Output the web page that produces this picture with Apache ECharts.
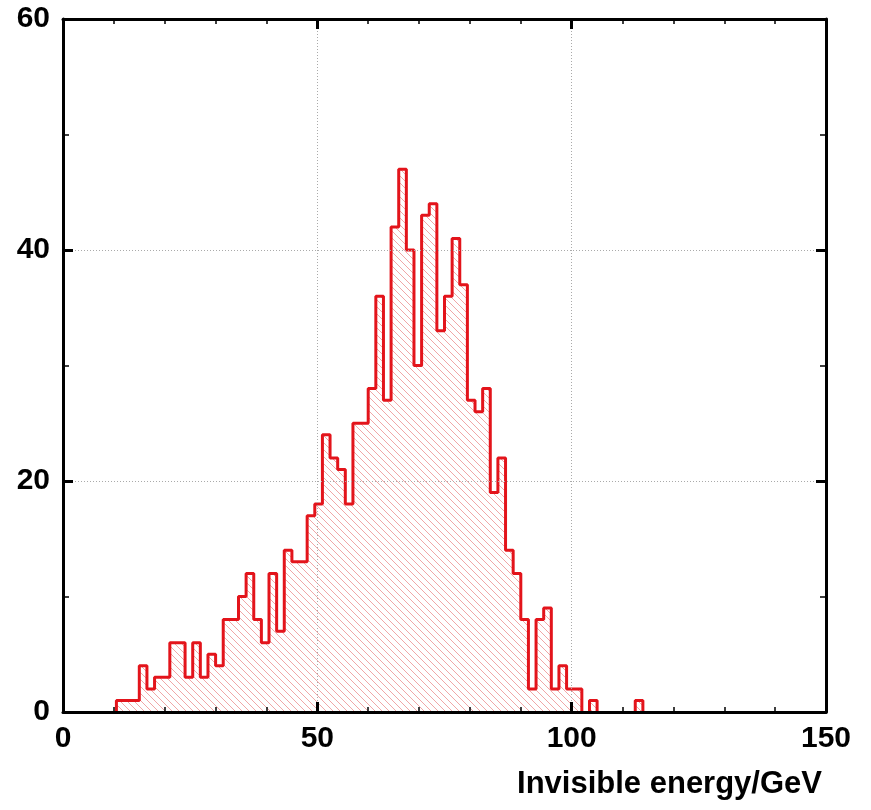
<!DOCTYPE html>
<html>
<head>
<meta charset="utf-8">
<script src="https://cdn.jsdelivr.net/npm/echarts@6/dist/echarts.min.js"></script>
<style>
  html, body { margin: 0; padding: 0; background: #fff; }
  #main { width: 871px; height: 810px; }
</style>
</head>
<body>
<div id="main"></div>
<script>
// histogram: 100 bins of 1.5 GeV from 0 to 150
var binStart = 0;
var binWidth = 1.5;
var counts = [
  0, 0, 0, 0, 0, 0, 0, 1, 1, 1,
  4, 2, 3, 3, 6, 6, 3, 6, 3, 5,
  4, 8, 8, 10, 12, 8, 6, 12, 7, 14,
  13, 13, 17, 18, 24, 22, 21, 18, 25, 25,
  28, 36, 27, 42, 47, 40, 30, 43, 44, 33,
  36, 41, 37, 27, 26, 28, 19, 22, 14, 12,
  8, 2, 8, 9, 2, 4, 2, 2, 0, 1,
  0, 0, 0, 0, 0, 1, 0, 0, 0, 0,
  0, 0, 0, 0, 0, 0, 0, 0, 0, 0,
  0, 0, 0, 0, 0, 0, 0, 0, 0, 0
];
var xTicks = [0, 50, 100, 150];
var yTicks = [0, 20, 40, 60];
var xTitle = 'Invisible energy/GeV';

var font = "'Liberation Sans', Arial, Helvetica, sans-serif";

// split the histogram into runs of non-empty bins, so nothing is drawn along the zero line
function runs() {
  var out = [], cur = null;
  counts.forEach(function (c, i) {
    var x = binStart + i * binWidth;
    if (c > 0) {
      if (!cur) { cur = [[x, 0]]; }
      cur.push([x, c]);
    } else if (cur) {
      cur.push([x, 0]);
      out.push(cur); cur = null;
    }
  });
  if (cur) { cur.push([binStart + counts.length * binWidth, 0]); out.push(cur); }
  return out;
}

// hatch pattern "\\\"
function hatch() {
  var s = 7;
  var cv = document.createElement('canvas');
  cv.width = s; cv.height = s;
  var ctx = cv.getContext('2d');
  ctx.strokeStyle = 'rgba(228,95,95,0.55)';
  ctx.lineWidth = 1;
  for (var k = -1; k <= 1; k++) {
    ctx.beginPath();
    ctx.moveTo(k * s - 1, -1);
    ctx.lineTo(k * s + s + 1, s + 1);
    ctx.stroke();
  }
  return cv;
}
var pattern = hatch();

var axisLine = { show: true, onZero: false, lineStyle: { color: '#000', width: 3 } };
var grid = { type: [1, 2], color: '#aaa', width: 1 };

function xAxisOf(pos, labels) {
  return {
    type: 'value', position: pos, min: xTicks[0], max: xTicks[xTicks.length - 1],
    interval: xTicks[1] - xTicks[0], z: 10,
    axisLine: axisLine,
    axisTick: { show: true, inside: true, length: 10, lineStyle: { color: '#000', width: 3 } },
    minorTick: { show: true, splitNumber: 5, length: 5, lineStyle: { color: '#000', width: 1.5 } },
    splitLine: { show: labels, lineStyle: grid },
    axisLabel: { show: labels, margin: 12, color: '#000', fontFamily: font, fontWeight: 'bold', fontSize: 30 },
    name: labels ? xTitle : '', nameLocation: 'end', nameGap: 0,
    nameTextStyle: { color: '#000', fontFamily: font, fontWeight: 'bold', fontSize: 31,
      align: 'right', verticalAlign: 'top', padding: [57, 4, 0, 0] }
  };
}
function yAxisOf(pos, labels) {
  return {
    type: 'value', position: pos, min: yTicks[0], max: yTicks[yTicks.length - 1],
    interval: yTicks[1] - yTicks[0], z: 10,
    axisLine: axisLine,
    axisTick: { show: true, inside: true, length: 10, lineStyle: { color: '#000', width: 3 } },
    minorTick: { show: true, splitNumber: 2, length: 6, lineStyle: { color: '#000', width: 1.5 } },
    splitLine: { show: labels, lineStyle: grid },
    axisLabel: { show: labels, margin: 13, color: '#000', fontFamily: font, fontWeight: 'bold', fontSize: 30 }
  };
}

var series = runs().map(function (pts) {
  return {
    type: 'line',
    step: 'end',
    data: pts,
    symbol: 'none',
    z: 2,
    lineStyle: { color: '#e3141b', width: 3 },
    areaStyle: { color: { image: pattern, repeat: 'repeat' }, opacity: 1 }
  };
});

var myChart = echarts.init(document.getElementById('main'));
var option = {
  animation: false,
  backgroundColor: '#fff',
  grid: { left: 63, right: 45, top: 19, bottom: 98 },
  xAxis: [xAxisOf('bottom', true), xAxisOf('top', false)],
  yAxis: [yAxisOf('left', true), yAxisOf('right', false)],
  series: series
};
myChart.setOption(option);
window.addEventListener('resize', myChart.resize);
</script>
</body>
</html>
